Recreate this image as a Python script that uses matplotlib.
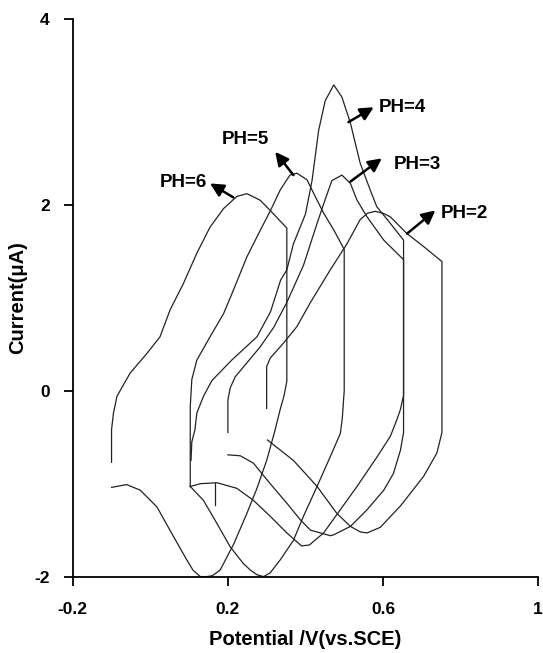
import matplotlib
matplotlib.use("Agg")
import matplotlib.pyplot as plt

# ---- data ----
ph6_x = [-0.1, -0.1, -0.095, -0.086, -0.078, -0.052, -0.009, 0.025, 0.051, 0.085, 0.12, 0.154, 0.189, 0.223, 0.249,
         0.283, 0.309, 0.352, 0.352, 0.345, 0.335, 0.32, 0.30, 0.275, 0.249, 0.215, 0.18, 0.16, 0.146, 0.129, 0.11,
         0.094, 0.06, 0.017, -0.026, -0.061, -0.1]
ph6_y = [-0.77, -0.42, -0.24, -0.06, 0.0, 0.19, 0.40, 0.58, 0.87, 1.15, 1.48, 1.76, 1.96, 2.09, 2.12,
         2.05, 1.94, 1.75, 0.1, -0.05, -0.2, -0.45, -0.75, -1.05, -1.32, -1.65, -1.93, -1.99, -2.0, -2.0, -1.93,
         -1.82, -1.57, -1.25, -1.07, -1.01, -1.04]

ph5_x = [0.103, 0.103, 0.107, 0.12, 0.154, 0.189, 0.214, 0.249, 0.284, 0.31, 0.335, 0.36, 0.378, 0.404, 0.43,
         0.447, 0.473, 0.5, 0.5, 0.495, 0.49, 0.464, 0.43, 0.395, 0.369, 0.335, 0.309, 0.292, 0.275, 0.258,
         0.24, 0.206, 0.172, 0.137, 0.103]
ph5_y = [-1.03, -0.17, 0.12, 0.33, 0.58, 0.83, 1.08, 1.44, 1.73, 1.94, 2.16, 2.32, 2.34, 2.27, 2.05,
         1.91, 1.73, 1.52, 0.0, -0.3, -0.46, -0.71, -1.03, -1.35, -1.61, -1.82, -1.96, -2.0, -1.98, -1.93,
         -1.86, -1.68, -1.43, -1.18, -1.03]

ph4_x = [0.105, 0.107, 0.115, 0.12, 0.137, 0.159, 0.21, 0.275, 0.31, 0.336, 0.352, 0.369, 0.4, 0.417, 0.434,
         0.451, 0.473, 0.494, 0.516, 0.541, 0.567, 0.584, 0.619, 0.653, 0.653, 0.645, 0.636, 0.619, 0.585,
         0.533, 0.49, 0.447, 0.41, 0.39, 0.352, 0.309, 0.266, 0.223, 0.172, 0.13, 0.103]
ph4_y = [-0.75, -0.55, -0.42, -0.24, -0.06, 0.11, 0.33, 0.58, 0.85, 1.19, 1.3, 1.58, 1.9, 2.26, 2.8,
         3.12, 3.29, 3.16, 2.88, 2.45, 2.16, 1.98, 1.8, 1.62, -0.05, -0.2, -0.31, -0.49, -0.71,
         -1.03, -1.28, -1.53, -1.66, -1.67, -1.53, -1.35, -1.18, -1.05, -0.99, -1.0, -1.03]

ph3_x = [0.2, 0.2, 0.206, 0.219, 0.249, 0.283, 0.318, 0.352, 0.395, 0.43, 0.447, 0.468, 0.494, 0.516, 0.533,
         0.559, 0.602, 0.653, 0.653, 0.645, 0.627, 0.602, 0.559, 0.516, 0.473, 0.464, 0.413, 0.387, 0.352,
         0.309, 0.266, 0.232, 0.2]
ph3_y = [-0.45, -0.1, 0.03, 0.15, 0.3, 0.47, 0.68, 0.95, 1.35, 1.8, 2.01, 2.26, 2.32, 2.23, 2.05,
         1.87, 1.62, 1.41, -0.45, -0.64, -0.89, -1.07, -1.28, -1.46, -1.55, -1.56, -1.5, -1.39, -1.21,
         -1.0, -0.78, -0.7, -0.69]

ph2_x = [0.3, 0.3, 0.309, 0.343, 0.378, 0.413, 0.464, 0.507, 0.541, 0.56, 0.58, 0.6, 0.619, 0.662, 0.705,
         0.752, 0.752, 0.739, 0.705, 0.645, 0.593, 0.559, 0.542, 0.516, 0.481, 0.43, 0.369, 0.302]
ph2_y = [-0.19, 0.26, 0.35, 0.51, 0.69, 0.95, 1.3, 1.58, 1.84, 1.91, 1.93, 1.91, 1.87, 1.69, 1.55,
         1.39, -0.45, -0.67, -0.92, -1.24, -1.47, -1.53, -1.52, -1.46, -1.32, -1.03, -0.75, -0.53]

spike_x = [0.167, 0.167]
spike_y = [-0.99, -1.23]

labels = ["PH=6", "PH=5", "PH=4", "PH=3", "PH=2"]
arrow_tail = [(0.214, 2.08), (0.369, 2.32), (0.511, 2.89), (0.516, 2.25), (0.662, 1.69)]
arrow_head = [(0.154, 2.23), (0.322, 2.57), (0.576, 3.05), (0.597, 2.50), (0.735, 1.94)]
label_pos = [(0.147, 2.24), (0.245, 2.70), (0.588, 3.05), (0.629, 2.43), (0.748, 1.91)]
label_ha = ["right", "center", "left", "left", "left"]

xticks = [-0.2, 0.2, 0.6, 1.0]
xticklabels = ["-0.2", "0.2", "0.6", "1"]
yticks = [-2, 0, 2, 4]
yticklabels = ["-2", "0", "2", "4"]

# ---- figure ----
plt.rcParams['font.family'] = ['Liberation Sans', 'DejaVu Sans']
fig = plt.figure(figsize=(5.43, 6.53), dpi=100)
ax = fig.add_axes([0.134, 0.117, 0.857, 0.854])

lc = '#222222'
for xs, ys in [(ph6_x, ph6_y), (ph5_x, ph5_y), (ph4_x, ph4_y), (ph3_x, ph3_y), (ph2_x, ph2_y), (spike_x, spike_y)]:
    ax.plot(xs, ys, color=lc, lw=0.9, solid_joinstyle='round')

for lab, t, h, p, ha in zip(labels, arrow_tail, arrow_head, label_pos, label_ha):
    ax.annotate("", xy=h, xytext=t,
                arrowprops=dict(arrowstyle='-|>,head_length=0.8,head_width=0.4', color='black', lw=1.8,
                                shrinkA=0, shrinkB=0))
    ax.text(p[0], p[1], lab, ha=ha, va='center', fontsize=13.5, fontweight='bold')

ax.set_xlim(-0.2, 1.0)
ax.set_ylim(-2, 4)
ax.set_xticks(xticks)
ax.set_xticklabels(xticklabels)
ax.set_yticks(yticks)
ax.set_yticklabels(yticklabels)
for s in ['top', 'right']:
    ax.spines[s].set_visible(False)
for s in ['left', 'bottom']:
    ax.spines[s].set_linewidth(1.3)
ax.tick_params(direction='out', length=6.5, width=1.3, labelsize=12.5)
ax.tick_params(axis='x', pad=11.5)
ax.tick_params(axis='y', pad=10)
for lbl in ax.get_xticklabels() + ax.get_yticklabels():
    lbl.set_fontweight('bold')
ax.set_xlabel("Potential /V(vs.SCE)", fontsize=14.5, fontweight='bold', labelpad=10)
ax.set_ylabel("Current(μA)", fontsize=14.5, fontweight='bold', labelpad=5)

fig.savefig("out.png", dpi=100)
